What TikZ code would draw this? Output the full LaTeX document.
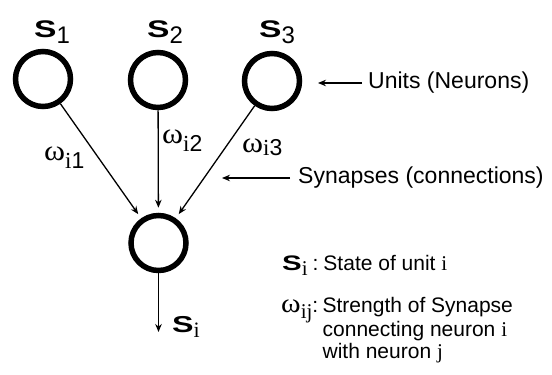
\documentclass[tikz,border=0pt]{standalone}
\usepackage{fontspec}
\usepackage{graphicx}
\setmainfont{Liberation Sans}
\newfontfamily\srf{Liberation Serif}
\usetikzlibrary{arrows.meta}

\newcommand\fs[1]{\fontsize{#1}{#1}\selectfont}
% wide bold state letter
\newcommand\stateS[1]{{\fs{#1}\bfseries\scalebox{1.4}[1]{S}}}
% wide omega
\newcommand\wom[1]{{\srf\fs{#1}\scalebox{1.1}[1]{ω}}}

\begin{document}
\begin{tikzpicture}[x=1pt,y=-1pt,
  unit/.style={circle, draw, line width=5.5pt, minimum size=55pt, inner sep=0pt},
  conn/.style={line width=1.3pt, -{Stealth[length=8pt,width=6.5pt]}},
  tag/.style={inner sep=0pt, anchor=base west},
  callout/.style={font=\fs{23}, inner ysep=0pt, anchor=west},
  legend/.style={font=\fs{21}, inner sep=0pt, anchor=base west}]
\useasboundingbox (0,0) rectangle (552,375);

% units
\node[unit] (n1) at (43,79) {};
\node[unit] (n2) at (158,80) {};
\node[unit] (n3) at (272,81) {};
\node[unit] (out) at (158.5,243) {};

% state labels above the input units
\node[tag] (l1) at (34,37) {\stateS{24}\raisebox{-6pt}{\fs{24}1}};
\node[tag] (l2) at (147,37) {\stateS{24}\raisebox{-6pt}{\fs{24}2}};
\node[tag] (l3) at (259,37) {\stateS{24}\raisebox{-6pt}{\fs{24}3}};

% synapses
\draw[conn, shorten >=5pt] (n1) -- (out);
\draw[conn, shorten >=5pt] (n2) -- (out);
\draw[conn, shorten >=5pt] (n3) -- (out);

% weights
\node[tag] (w1) at (44,160) {\wom{29}\raisebox{-8pt}{\fs{23}{\srf i}1}};
\node[tag] (w2) at (162,143) {\wom{29}\raisebox{-8pt}{\fs{23}{\srf i}2}};
\node[tag] (w3) at (242,152) {\wom{29}\raisebox{-3pt}{\fs{23}{\srf i}3}};

% output
\coordinate (oend) at (158.5,332);
\draw[conn] (out) -- (oend);
\node[tag] (si) at (172,332) {\stateS{23}\raisebox{-5pt}{\srf\fs{22}i}};

% callouts
\node[callout, inner xsep=6pt] (units) at (362,83) {Units (Neurons)};
\coordinate (uend) at (318,83);
\draw[conn] (units.west) -- (uend);

\node[callout, inner xsep=8pt] (syn) at (290,178) {Synapses (connections)};
\coordinate (send) at (222,178);
\draw[conn] (syn.west) -- (send);

% legend
\node[legend] (d1) at (282,270) {\stateS{21}\raisebox{-5pt}{\srf\fs{21}i}\hspace{5pt}:\hspace{5pt}State of unit {\srf i}};
\node[legend] (d2s) at (281,312) {\wom{27}\raisebox{-6pt}{\srf\fs{21}ij}:};
\node[legend] (d2) at (d2s.base east) [xshift=4pt] {Strength of Synapse};
\node[legend] (d3) at ([yshift=-24pt]d2.base west) {connecting neuron {\srf i}};
\node[legend] (d4) at ([yshift=-22pt]d3.base west) {with neuron {\srf j}};
\end{tikzpicture}
\end{document}
